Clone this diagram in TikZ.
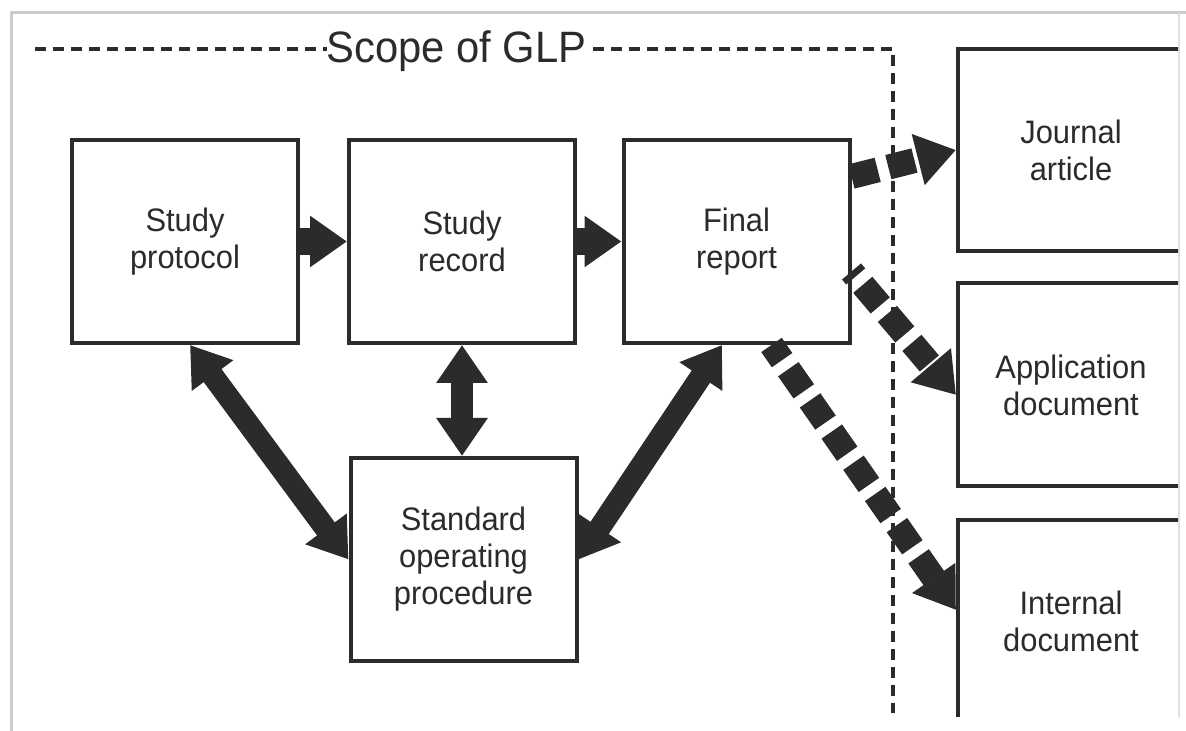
\documentclass[tikz,border=0pt]{standalone}
\usepackage{fontspec}
\setmainfont{Liberation Sans}[FakeStretch=0.95]
\usetikzlibrary{arrows.meta}
\definecolor{ink}{HTML}{2B2B2B}

\begin{document}
\begin{tikzpicture}[
    box/.style={draw=ink, line width=0.08cm, fill=white, minimum width=4.52cm,
        minimum height=4.06cm, align=center, text=ink,
        font=\fontsize{18.5}{21}\selectfont},
    solidarrow/.style={draw=ink, line width=0.54cm,
        -{Triangle[length=0.74cm,width=0.98cm]}},
    twoway/.style={draw=ink, line width=0.44cm,
        {Triangle[length=0.76cm,width=0.98cm]}-{Triangle[length=0.76cm,width=0.98cm]}},
    dasharrow/.style={draw=ink, line width=0.5cm, dash pattern=on 0.54cm off 0.22cm,
        -{Triangle[length=0.78cm,width=1cm]}},
    scopeline/.style={draw=ink, line width=0.09cm, dash pattern=on 0.22cm off 0.14cm}
]
    \useasboundingbox (0,0) rectangle (23.72,14.62);

    % Frame of the figure
    \draw[gray!40, line width=0.06cm] (0.22,0) -- (0.22,14.36) -- (23.72,14.36);
    \draw[gray!25, line width=0.04cm] (23.58,14.36) -- (23.58,0.28);

    \begin{scope}
    \clip (0.26,0.28) rectangle (23.56,14.32);

    % Scope of GLP
    \draw[scopeline] (0.7,13.64) -- (17.86,13.64) -- (17.86,0.36);
    \node[fill=white, inner sep=0pt, anchor=base, text=ink,
        font=\fontsize{25}{28}\selectfont] (scope) at (9.13,13.36) {Scope of GLP};

    % Boxes
    \node[box] (protocol) at (3.70,9.79) {Study\\protocol};
    \node[box] (record) at (9.24,9.79) {Study\\record};
    \node[box] (final) at (14.73,9.79) {Final\\report};
    \node[box] (sop) at (9.27,3.43) {Standard\\operating\\procedure};
    \node[box, minimum height=4.04cm] (journal) at (21.42,11.62) {Journal\\article};
    \node[box] (application) at (21.42,6.92) {Application\\document};
    \node[box] (internal) at (21.42,2.19) {Internal\\document};

    % Arrows inside GLP
    \draw[solidarrow] (protocol.east) -- (record.west);
    \draw[solidarrow] (record.east) -- (final.west);
    \draw[twoway] (record.south) -- (record.south |- sop.north);
    \draw[twoway] ([xshift=0.1cm]protocol.south) -- (sop.west);
    \draw[twoway] ([xshift=-0.29cm]final.south) -- (sop.east);

    % Arrows out of GLP
    \draw[dasharrow] ([yshift=1.3cm]final.east) -- (journal.west);
    \draw[dasharrow, dash phase=0.41cm] ([yshift=-0.6cm]final.east) -- ([yshift=-0.2cm]application.west);
    \draw[dasharrow, dash phase=0.17cm] ([xshift=0.7cm]final.south) -- ([yshift=0.23cm]internal.west);
    \end{scope}
\end{tikzpicture}
\end{document}
